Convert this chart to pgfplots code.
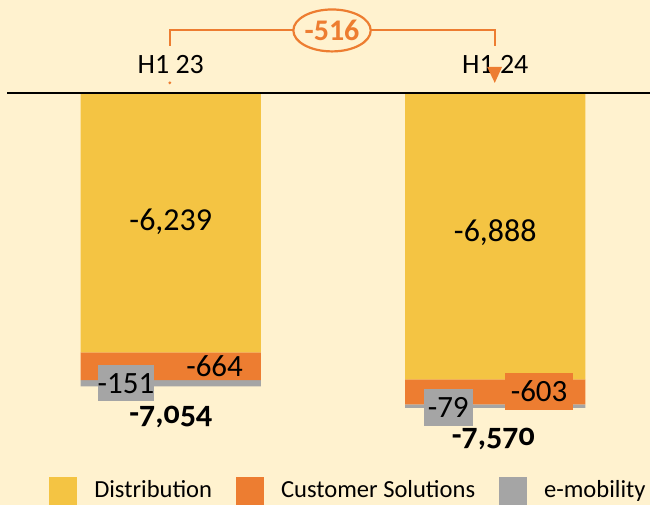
\documentclass[border=0pt]{standalone}
\usepackage{fontspec}
\setmainfont{Carlito}
\newfontfamily\osf[Numbers=OldStyle]{Carlito}
\usepackage{pgfplots}
\pgfplotsset{compat=1.18}
\usetikzlibrary{shapes.geometric}
\definecolor{bgcol}{HTML}{FFF2CF}
\definecolor{distc}{HTML}{F4C443}
\definecolor{custc}{HTML}{ED7D31}
\definecolor{emobc}{HTML}{A5A5A5}
\newcommand{\annot}{%
% top line
\draw[black, line width=1pt] (axis cs:-0.5046,0) -- (axis cs:1.4769,0);
% category labels
\node[font=\fontsize{14pt}{16pt}\selectfont] at (axis cs:0,672) {H1 23};
\node[font=\fontsize{14pt}{16pt}\selectfont] at (axis cs:1.0,672) {H1 24};
% bracket
\draw[custc, line width=1pt] (axis cs:-0.003,1128) -- (axis cs:-0.003,1512) -- (axis cs:1.0,1512) -- (axis cs:1.0,1128);
\node[draw=custc, fill=bgcol, line width=1.1pt, ellipse, minimum width=37pt, minimum height=21pt, inner sep=0pt,
  text=custc, font=\bfseries\fontsize{15pt}{17pt}\selectfont] at (axis cs:0.497,1500) {-516};
\fill[custc] (axis cs:-0.003,240) circle (0.8pt);
\fill[custc] (axis cs:0.975,624) -- (axis cs:1.021,624) -- (axis cs:0.9985,240) -- cycle;
% values
\node[font=\fontsize{16pt}{18pt}\selectfont] at (axis cs:0,-3096) {-6,239};
\node[font=\fontsize{16pt}{18pt}\selectfont] at (axis cs:1.0,-3360) {-6,888};
\node[font=\fontsize{15.5pt}{18pt}\selectfont] at (axis cs:0.135,-6576) {-664};
\node[fill=emobc, minimum width=28pt, minimum height=18pt, inner sep=0pt, font=\fontsize{15.5pt}{18pt}\selectfont] at (axis cs:-0.138,-6984) {-151};
\node[fill=custc, minimum width=34pt, minimum height=18.5pt, inner sep=0pt, font=\fontsize{15.5pt}{18pt}\selectfont] at (axis cs:1.135,-7176) {-603};
\node[fill=emobc, minimum width=24.5pt, minimum height=18.5pt, inner sep=0pt, font=\fontsize{15.5pt}{18pt}\selectfont] at (axis cs:0.855,-7560) {-79};
\node[font=\osf\bfseries\fontsize{16pt}{18pt}\selectfont] at (axis cs:0,-7800) {-7,054};
\node[font=\osf\bfseries\fontsize{16pt}{18pt}\selectfont] at (axis cs:0.994,-8330) {-7,570};
}
\begin{document}
\begin{tikzpicture}
\begin{axis}[
  width=325.5pt, height=253pt, scale only axis,
  xmin=-0.5262, xmax=1.4769,
  ymin=-9912, ymax=2232,
  axis line style={draw=none},
  xtick=\empty, ytick=\empty,
  axis background/.style={fill=bgcol},
  clip=false,
  ybar stacked, bar width=0.555,
  legend columns=3,
  legend style={at={(rel axis cs:0.5376,0.0)}, anchor=south, draw=none, fill=none,
    inner sep=0pt, font=\fontsize{12.3pt}{14pt}\selectfont,
    /tikz/every even column/.append style={column sep=10pt}},
  legend image code/.code={\fill[#1] (0pt,-7pt) rectangle (14pt,7pt); \path (20.5pt,0pt);},
  after end axis/.code={\annot},
]
\addplot[fill=distc, draw=none] coordinates {(0,-6239) (1,-6888)};
\addplot[fill=custc, draw=none] coordinates {(0,-664) (1,-603)};
\addplot[fill=emobc, draw=none] coordinates {(0,-151) (1,-79)};
\legend{Distribution, Customer Solutions, e-mobility}
\end{axis}
\end{tikzpicture}
\end{document}
